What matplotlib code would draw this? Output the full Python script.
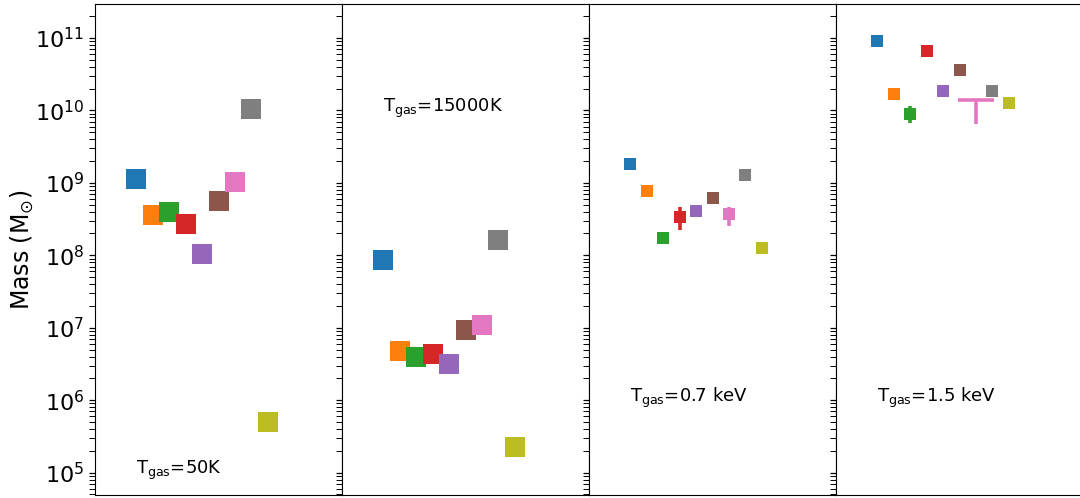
import matplotlib
matplotlib.use("Agg")
import matplotlib.pyplot as plt
import numpy as np

colors = ["#1f77b4", "#ff7f0e", "#2ca02c", "#d62728", "#9467bd",
          "#8c564b", "#e377c2", "#7f7f7f", "#bcbd22"]

labels = ["T$_{\\rm gas}$=50K", "T$_{\\rm gas}$=15000K",
          "T$_{\\rm gas}$=0.7 keV", "T$_{\\rm gas}$=1.5 keV"]

mass_50K = [1.14e9, 3.6e8, 3.96e8, 2.73e8, 1.03e8, 5.6e8, 1.04e9, 1.05e10, 5.0e5]
mass_15000K = [8.6e7, 4.7e6, 4.0e6, 4.4e6, 3.2e6, 9.3e6, 1.09e7, 1.63e8, 2.29e5]
mass_07keV = [1.82e9, 7.7e8, 1.74e8, 3.42e8, 4.1e8, 6.2e8, 3.68e8, 1.28e9, 1.25e8]
mass_15keV = [9.0e10, 1.7e10, 9.0e9, 6.6e10, 1.87e10, 3.6e10, None, 1.83e10, 1.25e10]

# asymmetric error bars (lower, upper) for selected points
err_07keV = {2: (1.45e8, 1.76e8), 3: (2.24e8, 4.6e8), 6: (2.57e8, 4.7e8)}
err_15keV = {2: (6.65e9, 1.14e10)}
# pink limit in the 1.5 keV panel: bar level and lower end of the stem
pink_15keV_level = 1.39e10
pink_15keV_low = 6.5e9
pink_15keV_halfwidth = 1.1

panel_data = [mass_50K, mass_15000K, mass_07keV, mass_15keV]
panel_err = [{}, {}, err_07keV, err_15keV]
marker_sizes = [14, 14, 9, 9]
text_pos = [(0, 1.06e5), (0, 1.08e10), (0, 1.07e6), (0, 1.07e6)]

W, H = 1080, 498
fig = plt.figure(figsize=(W / 100, H / 100), dpi=100)
left = 95 / W
pw = 247 / W
bottom = 1 - 495 / H
height = (495 - 4) / H

axes = []
for k in range(4):
    if k == 0:
        ax = fig.add_axes([left + k * pw, bottom, pw, height])
    else:
        ax = fig.add_axes([left + k * pw, bottom, pw, height], sharey=axes[0])
    axes.append(ax)

for k, ax in enumerate(axes):
    vals = panel_data[k]
    for i, v in enumerate(vals):
        if v is None:
            continue
        if i in panel_err[k]:
            lo, hi = panel_err[k][i]
            ax.errorbar([i], [v], yerr=[[v - lo], [hi - v]], fmt="s",
                        color=colors[i], ms=marker_sizes[k], mew=0,
                        elinewidth=2.6, capsize=0)
        else:
            ax.plot([i], [v], "s", color=colors[i], ms=marker_sizes[k], mew=0)
    if k == 3:
        ax.errorbar([6], [pink_15keV_level],
                    xerr=[[pink_15keV_halfwidth], [pink_15keV_halfwidth]],
                    yerr=[[pink_15keV_level - pink_15keV_low], [0]],
                    fmt="none", ecolor=colors[6], elinewidth=2.6, capsize=0)
    ax.set_yscale("log")
    ax.set_xlim(-2.5, 12.5)
    ax.set_xticks([])
    ax.tick_params(axis="y", which="both", direction="out", length=4.3)
    ax.tick_params(axis="y", which="major", width=0.9, labelsize=16)
    ax.tick_params(axis="y", which="minor", width=0.7)
    if k > 0:
        ax.tick_params(axis="y", which="both", labelleft=False)
    ax.text(text_pos[k][0], text_pos[k][1], labels[k], fontsize=13,
            ha="left", va="center")

axes[0].set_ylim(4.9e4, 2.95e11)
axes[0].yaxis.set_minor_formatter(matplotlib.ticker.NullFormatter())
axes[0].set_ylabel("Mass (M$_{\\odot}$)", fontsize=17)
axes[0].yaxis.set_label_coords(-0.239, 0.5)

fig.savefig("out.png", dpi=100)
